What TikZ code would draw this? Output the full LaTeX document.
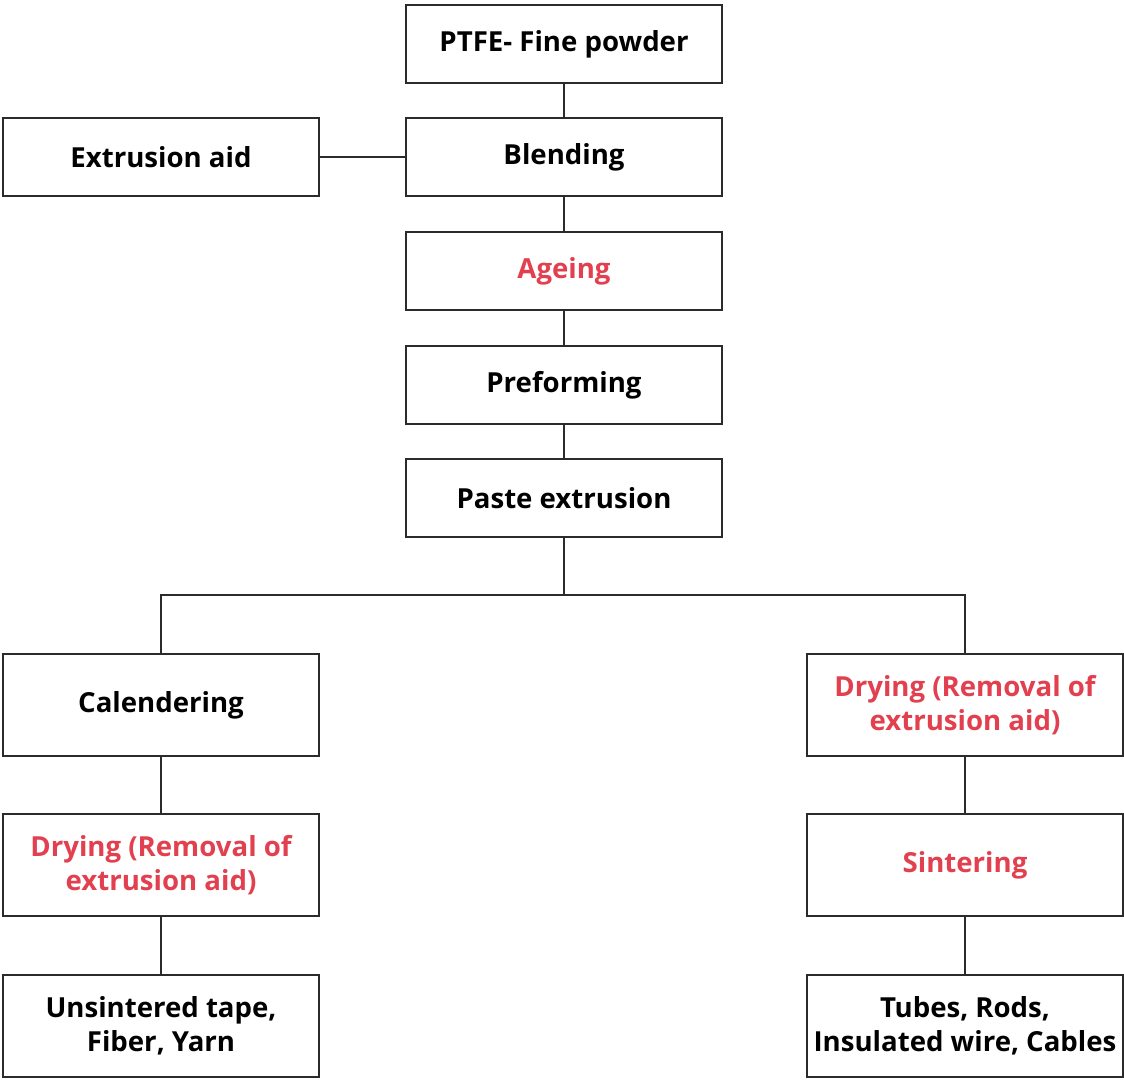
\documentclass[tikz,border=0pt]{standalone}
\usepackage{fontspec}
\setmainfont{Open Sans}
\definecolor{ln}{HTML}{2B2B2B}
\definecolor{rd}{HTML}{E2404F}
\begin{document}
\begin{tikzpicture}[x=1pt,y=-1pt,
  box/.style={draw=ln,line width=2.4pt,minimum width=316pt,inner sep=0pt,align=center,font=\fontsize{27.6}{34.5}\selectfont\bfseries,text=black},
  sbox/.style={box,minimum height=78pt},
  tbox/.style={box,minimum height=102pt},
  red/.style={text=rd},
  con/.style={draw=ln,line width=2.4pt}]
\useasboundingbox (0,0) rectangle (1124,1079);
\node[sbox] (ptfe) at (564,44) {PTFE- Fine powder};
\node[sbox] (aid) at (161,157) {Extrusion aid};
\node[sbox] (blend) at (564,157) {Blending};
\node[sbox,red] (age) at (564,271) {Ageing};
\node[sbox] (pre) at (564,385) {Preforming};
\node[sbox] (paste) at (564,498) {Paste extrusion};
\node[tbox] (cal) at (161,705) {Calendering};
\node[tbox,red] (dryr) at (965,705) {Drying (Removal of\\extrusion aid)};
\node[tbox,red] (dryl) at (161,865) {Drying (Removal of\\extrusion aid)};
\node[tbox,red] (sint) at (965,865) {Sintering};
\node[tbox] (tape) at (161,1026) {Unsintered tape,\\Fiber, Yarn};
\node[tbox] (tube) at (965,1026) {Tubes, Rods,\\Insulated wire, Cables};
\coordinate (br) at (564,595);
\draw[con] (ptfe) -- (blend);
\draw[con] (aid) -- (blend);
\draw[con] (blend) -- (age);
\draw[con] (age) -- (pre);
\draw[con] (pre) -- (paste);
\draw[con] (paste) -- (br);
\draw[con] (cal.north) |- (br) -| (dryr.north);
\draw[con] (cal) -- (dryl);
\draw[con] (dryl) -- (tape);
\draw[con] (dryr) -- (sint);
\draw[con] (sint) -- (tube);
\end{tikzpicture}
\end{document}
